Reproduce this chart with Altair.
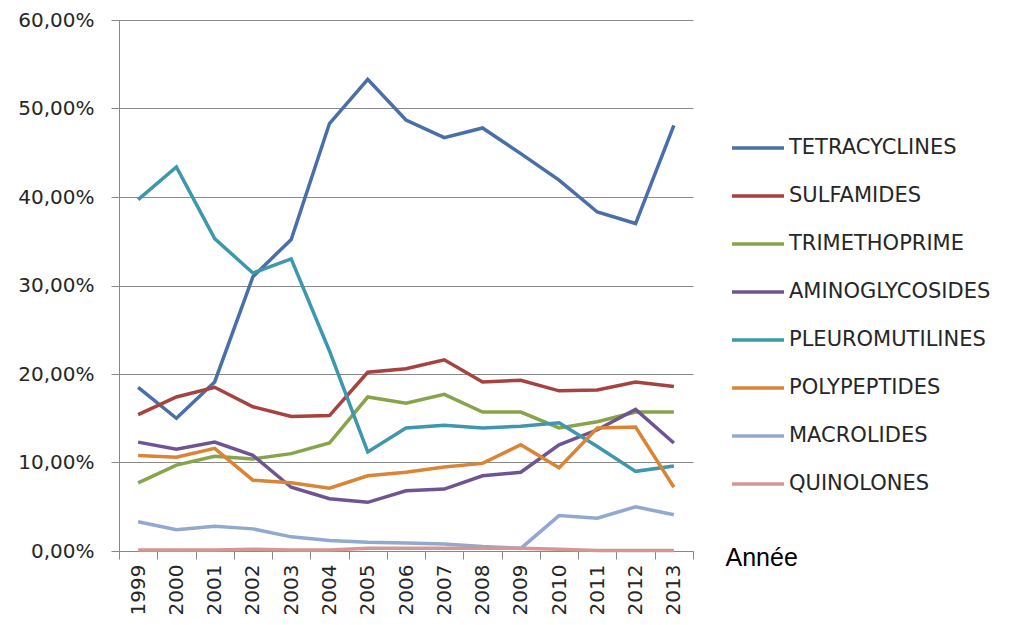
import altair as alt
import pandas as pd

years = [str(y) for y in range(1999, 2014)]
series_names = ["TETRACYCLINES", "SULFAMIDES", "TRIMETHOPRIME", "AMINOGLYCOSIDES",
                "PLEUROMUTILINES", "POLYPEPTIDES", "MACROLIDES", "QUINOLONES"]
colors = ["#4A6FA8", "#A6423F", "#86A44A", "#6E5491", "#3E97AD", "#DA8436", "#93A8D0", "#D49796"]

tetracyclines = [18.5, 15.0, 19.1, 31.0, 35.2, 48.3, 53.3, 48.7, 46.7, 47.8, 44.9, 41.9, 38.3, 37.0, 48.1]
sulfamides = [15.4, 17.4, 18.5, 16.3, 15.2, 15.3, 20.2, 20.6, 21.6, 19.1, 19.3, 18.1, 18.2, 19.1, 18.6]
trimethoprime = [7.7, 9.7, 10.7, 10.4, 11.0, 12.2, 17.4, 16.7, 17.7, 15.7, 15.7, 13.9, 14.6, 15.7, 15.7]
aminoglycosides = [12.3, 11.5, 12.3, 10.8, 7.2, 5.9, 5.5, 6.8, 7.0, 8.5, 8.9, 12.0, 13.7, 16.0, 12.2]
pleuromutilines = [39.7, 43.4, 35.3, 31.4, 33.0, 22.6, 11.2, 13.9, 14.2, 13.9, 14.1, 14.5, 11.8, 9.0, 9.6]
polypeptides = [10.8, 10.6, 11.6, 8.0, 7.7, 7.1, 8.5, 8.9, 9.5, 9.9, 12.0, 9.4, 13.9, 14.0, 7.2]
macrolides = [3.3, 2.4, 2.8, 2.5, 1.6, 1.2, 1.0, 0.9, 0.8, 0.5, 0.3, 4.0, 3.7, 5.0, 4.1]
quinolones = [0.1, 0.1, 0.1, 0.2, 0.1, 0.1, 0.3, 0.3, 0.3, 0.3, 0.3, 0.2, 0.05, 0.05, 0.05]

all_series = [tetracyclines, sulfamides, trimethoprime, aminoglycosides,
              pleuromutilines, polypeptides, macrolides, quinolones]

rows = []
for name, vals in zip(series_names, all_series):
    for y, v in zip(years, vals):
        rows.append({"Année": y, "Classe": name, "Part": v / 100.0})
df = pd.DataFrame(rows)

label_font = "DejaVu Sans"
text_color = "#262626"

chart = alt.Chart(df).mark_line(strokeWidth=3.5).encode(
    x=alt.X("Année:O", sort=years,
            scale=alt.Scale(type="band", paddingInner=0, paddingOuter=0),
            axis=alt.Axis(title="Année", labelAngle=-90, labelFontSize=20, labelFont=label_font,
                          labelColor=text_color, tickBand="extent", tickSize=8, tickColor="#888888",
                          domainColor="#888888", labelPadding=5,
                          titleX=606, titleY=6, titleAlign="left", titleBaseline="middle",
                          titleAnchor="start", titleFont="Liberation Sans", titleFontSize=25,
                          titleFontWeight="normal", titleColor="#000000", grid=False)),
    y=alt.Y("Part:Q", scale=alt.Scale(domain=[0, 0.6], nice=False),
            axis=alt.Axis(title=None, values=[0, 0.1, 0.2, 0.3, 0.4, 0.5, 0.6],
                          labelExpr="replace(format(datum.value*100, '.2f'), '.', ',') + '%'",
                          labelFontSize=20, labelFont=label_font, labelColor=text_color,
                          tickSize=8, tickColor="#888888", domainColor="#888888",
                          gridColor="#8a8a8a", gridWidth=1, labelPadding=17)),
    color=alt.Color("Classe:N", sort=series_names,
                    scale=alt.Scale(domain=series_names, range=colors),
                    legend=alt.Legend(title=None, orient="none", legendX=611, legendY=100,
                                      symbolType="stroke", symbolSize=2704, symbolStrokeWidth=3.5,
                                      labelFontSize=21, labelFont=label_font, labelColor=text_color,
                                      rowPadding=10, labelOffset=3, labelLimit=400)),
    order=alt.Order("Classe:N")
).properties(
    width=574, height=531,
    autosize=alt.AutoSizeParams(type="none"),
    padding={"left": 111, "top": 12, "right": 300, "bottom": 74}
).configure_view(strokeWidth=0)

chart.save("out.html", embed_options={"renderer": "svg", "actions": False})
